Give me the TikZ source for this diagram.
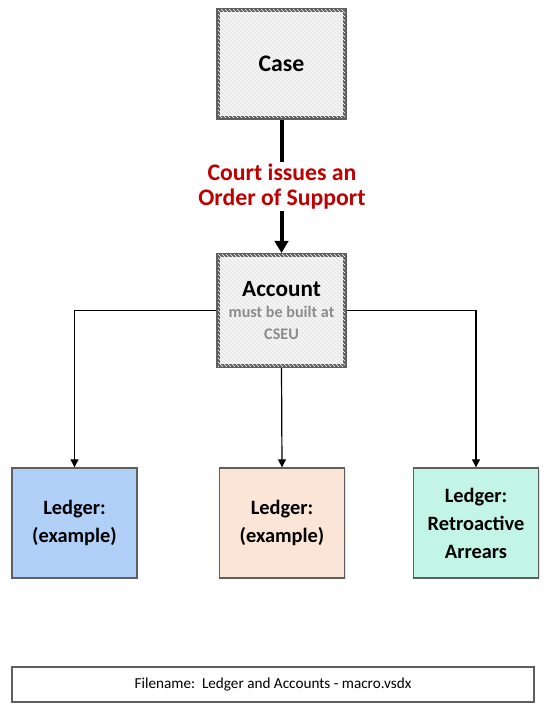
\documentclass[tikz,border=0pt]{standalone}
\usepackage{fontspec}
\setmainfont{Carlito}
\usetikzlibrary{arrows.meta,patterns,shadows}

\definecolor{boxgray}{HTML}{EBEBEB}
\definecolor{edgegray}{HTML}{5F5F5F}
\definecolor{textgray}{HTML}{8C8C8C}
\definecolor{orderred}{HTML}{C00000}
\definecolor{ledblue}{HTML}{B1D0F8}
\definecolor{ledpeach}{HTML}{FBE5D6}
\definecolor{ledmint}{HTML}{C3F5E6}

\newcommand{\smallgray}{\fontsize{12.1}{14}\selectfont\color{textgray}}

\tikzset{
	mainbox/.style={draw=edgegray,line width=3pt,fill=boxgray,
		postaction={pattern=north west lines,pattern color=white},
		drop shadow={opacity=0.25,shadow xshift=1pt,shadow yshift=-1pt},
		minimum width=95.25pt,align=center,font=\bfseries},
	ledbox/.style={draw=edgegray,line width=1pt,
		drop shadow={opacity=0.25,shadow xshift=1pt,shadow yshift=-1pt},
		minimum width=93.75pt,minimum height=82.5pt,align=center,
		font=\fontsize{15.3}{21}\selectfont\bfseries},
	thinarrow/.style={line width=0.9pt,-{Triangle[width=6pt,length=6pt]}}
}

\begin{document}
\begin{tikzpicture}[x=0.75pt,y=-0.75pt]
		\useasboundingbox (0,0)rectangle(551,712);
		\node[mainbox,minimum height=81pt] (case) at(281.5,64){\fontsize{17.8}{20}\selectfont Case};
		\node[mainbox,minimum height=83.25pt] (acct) at(281.5,310.5){%
			\fontsize{17.4}{20}\selectfont Account\\[4pt]
			\smallgray must be built at\\[4.5pt]
			\smallgray CSEU};
		\draw[line width=3pt,-{Triangle[width=10pt,length=9pt]}] (case.south)--(acct.north);
		\node[fill=white,inner sep=1pt,align=center,text=orderred,
			font=\fontsize{17.8}{19}\selectfont\bfseries] (order) at(282,186.5){Court issues an\\Order of Support};
		\node[ledbox,fill=ledblue] (led1) at(74.5,523){Ledger:\\(example)};
		\node[ledbox,fill=ledpeach] (led2) at(282,523){Ledger:\\(example)};
		\node[ledbox,fill=ledmint] (led3) at(476,523){Ledger:\\Retroactive\\Arrears};
		\draw[thinarrow] (acct.west)-|(led1.north);
		\draw[thinarrow] (acct.south)--(led2.north);
		\draw[thinarrow] (acct.east)-|(led3.north);
		\node[draw=edgegray,line width=1pt,minimum width=391.5pt,minimum height=26.25pt,
			font=\fontsize{11.4}{13}\selectfont] (fname) at(273,684.5){Filename:\ \ Ledger and Accounts - macro.vsdx};
	\end{tikzpicture}
\end{document}
